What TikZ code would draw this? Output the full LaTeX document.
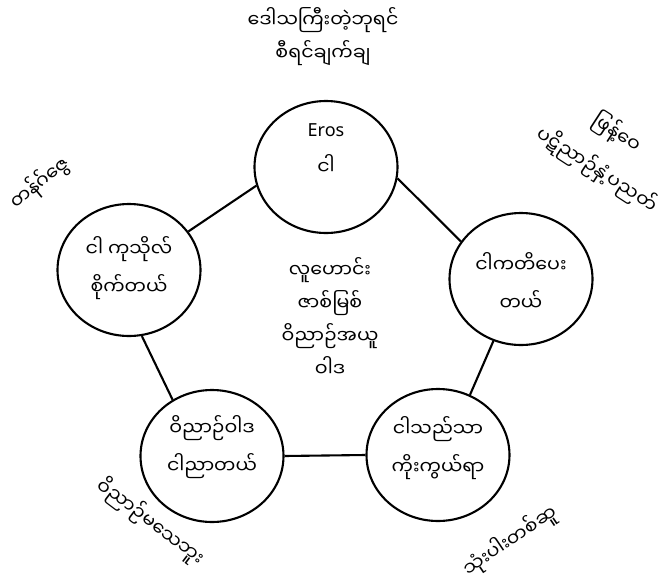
\documentclass[tikz,border=0pt]{standalone}
\usepackage{fontspec}
\setmainfont{Noto Sans}
\newfontfamily\my[Script=Myanmar]{Noto Sans Myanmar UI}
\usetikzlibrary{shapes.geometric}
\begin{document}
\begin{tikzpicture}[x=1pt,y=-1pt,
  circ/.style={draw,line width=2.1pt,ellipse,inner sep=0pt,minimum width=143pt,minimum height=132pt},
  txt/.style={align=center,font=\fontsize{19}{38}\selectfont\my,inner sep=0pt},
  ctxt/.style={align=center,font=\fontsize{19}{33}\selectfont\my,inner sep=0pt},
  lbl/.style={align=center,font=\fontsize{19}{33}\selectfont\my,inner sep=0pt},
  edge/.style={line width=2.1pt}]
\useasboundingbox (0,0) rectangle (662,584);
% ellipses
\node[circ] (T) at (326,167) {};
\node[circ] (L) at (129,270) {};
\node[circ] (R) at (521,279) {};
\node[circ] (BL) at (212,456) {};
\node[circ] (BR) at (438,455) {};
% texts in ellipses
\node[txt] (Tt) at (326,149) {{\fontspec{Noto Sans}\fontsize{18}{38}\selectfont Eros}\\ငါ};
\node[txt] (Lt) at (129,268) {ငါ ကုသိုလ်\\စိုက်တယ်};
\node[txt] (Rt) at (521,282) {ငါကတိပေး\\တယ်};
\node[txt] (BLt) at (212,447) {ဝိညာဉ်ဝါဒ\\ငါညာတယ်};
\node[txt] (BRt) at (438,448) {ငါသည်သာ\\ကိုးကွယ်ရာ};
% center
\node[ctxt] (C) at (330,317) {လူဟောင်း\\ဇာစ်မြစ်\\ဝိညာဉ်အယူ\\ဝါဒ};
% connectors
\draw[edge] (T.195) -- (L.33);
\draw[edge] (T.351) -- (R.148);
\draw[edge] (R.246) -- (BR.62);
\draw[edge] (L.281) -- (BL.125);
\draw[edge] (BL.0) -- (BR.180);
% outer labels
\node[lbl] (top) at (323,37) {ဒေါသကြီးတဲ့ဘုရင်\\စီရင်ချက်ချ};
\node[lbl,rotate=39] (lt) at (40,183) {တန်ဂ်ဇွေ};
\node[lbl,rotate=-33] (rt1) at (617,133) {ဖြန့်ဝေ};
\node[lbl,rotate=-33] (rt2) at (597,170) {ပဋိညာဉ်နှံ့ပညတ်};
\node[lbl,rotate=-37] (bl) at (151,522) {ဝိညာဉ်မသေဘူး};
\node[lbl,rotate=34] (br) at (510,541) {သုံးပါးတစ်ဆူ};
\end{tikzpicture}
\end{document}
